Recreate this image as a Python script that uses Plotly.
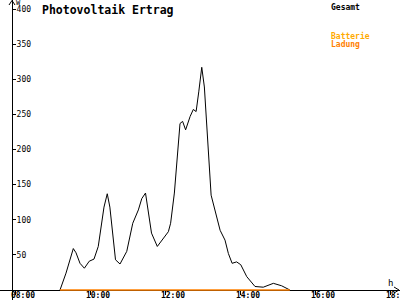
import plotly.graph_objects as go

# Data (hours of day, watts)
gesamt_t = [9.20, 9.36, 9.555, 9.627, 9.733, 9.85, 9.98, 10.107, 10.22, 10.373, 10.46, 10.53,
            10.68, 10.80, 10.98, 11.14, 11.29, 11.38, 11.48, 11.64, 11.795, 11.955, 12.09, 12.15,
            12.25, 12.40, 12.47, 12.55, 12.67, 12.755, 12.83, 12.90, 12.98, 13.05, 13.23, 13.47,
            13.60, 13.69, 13.79, 13.91, 14.02, 14.18, 14.40, 14.62, 14.89, 15.11, 15.33]
gesamt_w = [0, 24, 59, 53, 38, 31, 41, 44, 62, 118, 137, 118,
            43, 37, 55, 95, 114, 130, 138, 81, 62, 74, 83, 95,
            138, 237, 240, 228, 247, 257, 254, 282, 317, 289, 135, 85,
            71, 52, 38, 40, 36, 19, 5, 4, 9.5, 6, 0]
ladung_t = [9.20, 15.33]
ladung_w = [0, 0]

x_ticks = [8, 10, 12, 14, 16, 18]
x_labels = ["08:00", "10:00", "12:00", "14:00", "16:00", "18:00"]
y_ticks = [50, 100, 150, 200, 250, 300, 350, 400]
y_labels = ["50", "100", "150", "200", "250", "300", "350", "400"]

title = "Photovoltaik Ertrag"
legend_items = [("Gesamt", "#000000", 1 / 300), ("Batterie", "#FFAA00", 29 / 300), ("Ladung", "#FF8000", 38 / 300)]

FONT = "DejaVu Sans Mono"

fig = go.Figure()
fig.add_trace(go.Scatter(x=gesamt_t, y=gesamt_w, mode="lines",
                         line=dict(color="black", width=1), hoverinfo="skip"))
fig.add_trace(go.Scatter(x=ladung_t, y=ladung_w, mode="lines",
                         line=dict(color="#FF8000", width=1.5), hoverinfo="skip"))

fig.update_layout(
    template="none",
    width=400, height=300,
    margin=dict(l=0, r=0, t=0, b=0, pad=0),
    paper_bgcolor="white", plot_bgcolor="white",
    showlegend=False,
    font=dict(family=FONT, size=8, color="black"),
    xaxis=dict(range=[7.6, 18.2667], domain=[0, 1], anchor="free", position=10 / 300,
               automargin=False, layer="below traces",
               showgrid=False, zeroline=False, showline=True, linecolor="black", linewidth=1,
               tickmode="array", tickvals=x_ticks, ticktext=x_labels,
               ticks="outside", ticklen=4, tickcolor="black", tickwidth=1,
               ticklabelshift=8, ticklabelstandoff=-7, ticklabeloverflow="allow",
               tickfont=dict(family=FONT, size=8, color="black", weight="bold")),
    yaxis=dict(range=[-14.235, 412.81], domain=[0, 1], anchor="free", position=0.03,
               side="right", automargin=False, layer="below traces",
               showgrid=False, zeroline=False, showline=True, linecolor="black", linewidth=1,
               tickmode="array", tickvals=y_ticks, ticktext=y_labels,
               ticks="outside", ticklen=3, tickcolor="black", tickwidth=1,
               ticklabelstandoff=-1, ticklabeloverflow="allow",
               tickfont=dict(family=FONT, size=8, color="black")),
)

# Axis arrows
fig.add_shape(type="path", xref="paper", yref="paper",
              path="M %f %f L %f %f L %f %f" % (9 / 400, 1 - 5 / 300, 12 / 400, 1 - 0.5 / 300, 15 / 400, 1 - 5 / 300),
              line=dict(color="black", width=1))
fig.add_shape(type="path", xref="paper", yref="paper",
              path="M %f %f L %f %f L %f %f" % (394 / 400, 13 / 300, 399 / 400, 10 / 300, 394 / 400, 7 / 300),
              line=dict(color="black", width=1))

# Title and unit labels
fig.add_annotation(text=title, xref="paper", yref="paper", x=40 / 400, y=1 - 1 / 300,
                   xanchor="left", yanchor="top", showarrow=False,
                   font=dict(family=FONT, size=11.5, color="black", weight="bold"))
fig.add_annotation(text="W", xref="paper", yref="paper", x=14 / 400, y=1 + 3 / 300,
                   xanchor="left", yanchor="top", showarrow=False,
                   font=dict(family=FONT, size=7, color="black"))
fig.add_annotation(text="h", xref="paper", yref="paper", x=386 / 400, y=24 / 300,
                   xanchor="left", yanchor="top", showarrow=False,
                   font=dict(family=FONT, size=9, color="black"))

for name, color, ypos in legend_items:
    fig.add_annotation(text=name, xref="paper", yref="paper", x=329 / 400, y=1 - ypos,
                       xanchor="left", yanchor="top", showarrow=False,
                       font=dict(family=FONT, size=8, color=color, weight="bold"))

fig.write_html("out.html")
